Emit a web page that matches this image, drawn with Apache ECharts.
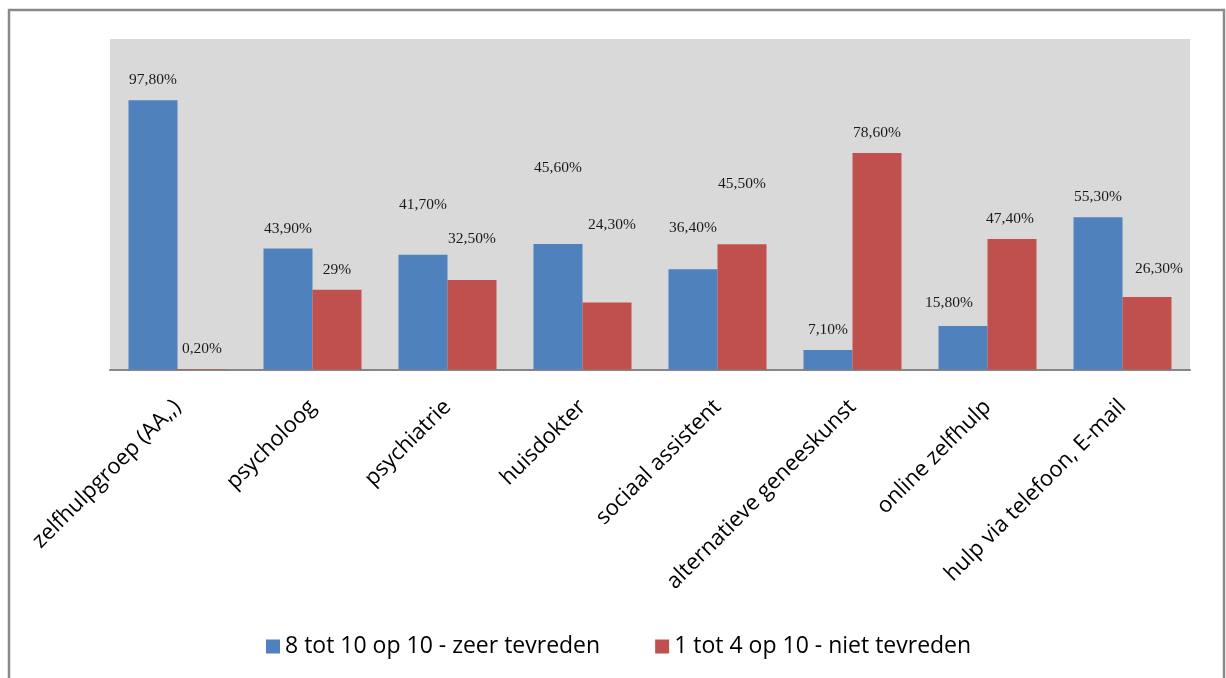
<!DOCTYPE html>
<html>
<head>
<meta charset="utf-8">
<script src="https://cdn.jsdelivr.net/npm/echarts@6/dist/echarts.min.js"></script>
<style>
  html, body { margin: 0; padding: 0; background: #ffffff; }
  #chart { width: 1226px; height: 678px; }
</style>
</head>
<body>
<div id="chart"></div>
<script>
const categories = [
  'zelfhulpgroep (AA,,)',
  'psycholoog',
  'psychiatrie',
  'huisdokter',
  'sociaal assistent',
  'alternatieve geneeskunst',
  'online zelfhulp',
  'hulp via telefoon, E-mail'
];
const seriesNames = ['8 tot 10 op 10 - zeer tevreden', '1 tot 4 op 10 - niet tevreden'];
const blueValues = [97.8, 43.9, 41.7, 45.6, 36.4, 7.1, 15.8, 55.3];
const redValues  = [0.2, 29, 32.5, 24.3, 45.5, 78.6, 47.4, 26.3];
const blueLabels = ['97,80%', '43,90%', '41,70%', '45,60%', '36,40%', '7,10%', '15,80%', '55,30%'];
const redLabels  = ['0,20%', '29%', '32,50%', '24,30%', '45,50%', '78,60%', '47,40%', '26,30%'];

// label placement tweaks (style only, [dx, dy] in px)
const blueLabelShift = [[0,0],[0,0],[0,-30],[0,-56],[0,-21],[0,0],[-14,-3],[0,0]];
const redLabelShift  = [[0,0],[0,0],[0,-21],[5,-58],[0,-40],[0,0],[-2,0],[12,-8]];

function buildData(values, labels, shifts) {
  return values.map((v, i) => ({
    value: v,
    label: { formatter: labels[i], offset: shifts[i] }
  }));
}

const valueLabel = {
  show: true,
  position: 'top',
  distance: 12,
  fontFamily: 'Liberation Serif',
  fontSize: 15.5,
  color: '#1a1a1a'
};

const chart = echarts.init(document.getElementById('chart'), null, { renderer: 'canvas' });
chart.setOption({
  animation: false,
  backgroundColor: '#ffffff',
  graphic: [{
    type: 'rect',
    shape: { x: 9, y: 10, width: 1215, height: 700 },
    style: { fill: 'none', stroke: '#8a8a8a', lineWidth: 2.5 },
    silent: true
  }],
  grid: {
    left: 110, right: 36, top: 39, bottom: 308.5,
    show: true, backgroundColor: '#d9d9d9', borderWidth: 0
  },
  legend: {
    data: seriesNames,
    left: 261, top: 630,
    icon: 'rect',
    itemWidth: 14, itemHeight: 14,
    itemGap: 55,
    textStyle: { fontFamily: 'Open Sans', fontSize: 23, color: '#000000' }
  },
  xAxis: {
    type: 'category',
    data: categories,
    axisLine: { show: true, lineStyle: { color: '#868686', width: 2 } },
    axisTick: { show: false },
    axisLabel: {
      rotate: 45, interval: 0, margin: 34,
      fontFamily: 'Open Sans', fontSize: 22, color: '#000000'
    }
  },
  yAxis: {
    type: 'value', min: 0, max: 120,
    show: false,
    splitLine: { show: false }
  },
  series: [
    {
      name: seriesNames[0], type: 'bar',
      data: buildData(blueValues, blueLabels, blueLabelShift),
      itemStyle: { color: '#4f81bd' },
      barWidth: 49, barGap: '0%',
      label: valueLabel
    },
    {
      name: seriesNames[1], type: 'bar',
      data: buildData(redValues, redLabels, redLabelShift),
      itemStyle: { color: '#c0504d' },
      barWidth: 49, barGap: '0%',
      label: valueLabel
    }
  ]
});
</script>
</body>
</html>
